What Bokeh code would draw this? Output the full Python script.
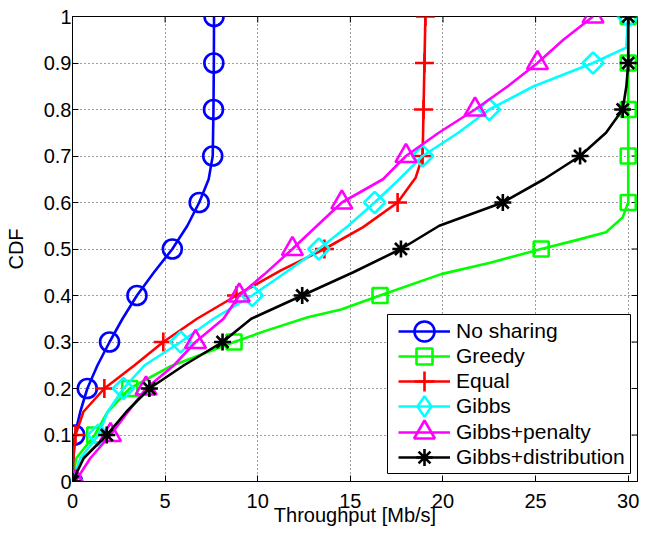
import math
from bokeh.plotting import figure
from bokeh.models import Range1d, Legend, LegendItem, FixedTicker, BoxAnnotation
from bokeh.embed import file_html
from bokeh.resources import INLINE

# ---- data ----
levels = [0.0, 0.1, 0.2, 0.3, 0.4, 0.5, 0.6, 0.7, 0.8, 0.9, 1.0]

series_names = ["No sharing", "Greedy", "Equal", "Gibbs", "Gibbs+penalty", "Gibbs+distribution"]

# throughput at each CDF decile (marker positions)
q_no_sharing = [0.0, 0.12, 0.8, 2.0, 3.48, 5.39, 6.84, 7.57, 7.61, 7.63, 7.64]
q_greedy = [0.0, 1.2, 3.09, 8.72, 16.6, 25.3, 30.0, 30.0, 30.0, 30.0, 30.0]
q_equal = [0.0, 0.16, 1.72, 4.9, 8.85, 13.6, 17.55, 18.9, 18.95, 19.0, 19.05]
q_gibbs = [0.0, 1.4, 2.75, 5.84, 9.7, 13.3, 16.31, 18.9, 22.5, 28.1, 30.0]
q_penalty = [0.15, 2.05, 3.97, 6.64, 9.0, 11.87, 14.54, 18.0, 21.73, 25.1, 28.1]
q_distribution = [0.0, 1.85, 4.15, 8.1, 12.4, 17.73, 23.23, 27.4, 29.7, 30.0, 30.0]

# empirical CDF curves (throughput, CDF)
x_no_sharing = [0, 0.05, 0.12, 0.42, 0.8, 1.35, 2.0, 2.7, 3.48, 4.4, 5.39, 6.2, 6.84, 7.35, 7.57, 7.61, 7.63, 7.64]
y_no_sharing = [0, 0.05, 0.1, 0.15, 0.2, 0.25, 0.3, 0.35, 0.4, 0.45, 0.5, 0.55, 0.6, 0.65, 0.7, 0.8, 0.9, 1.0]

x_greedy = [0, 0.2, 1.2, 1.9, 3.09, 5.3, 8.72, 10.5, 12.7, 14.5, 16.6, 19.9, 22.6, 25.3, 27.1, 28.8, 29.7, 30, 30]
y_greedy = [0, 0.05, 0.1, 0.15, 0.2, 0.248, 0.3, 0.325, 0.353, 0.37, 0.4, 0.446, 0.471, 0.5, 0.518, 0.536, 0.568, 0.6, 1.0]

x_equal = [0, 0.05, 0.16, 0.59, 1.72, 3.35, 4.9, 6.72, 8.85, 11.25, 13.6, 15.69, 17.55, 18.53, 18.9, 18.95, 19.0, 19.05]
y_equal = [0, 0.05, 0.1, 0.15, 0.2, 0.25, 0.3, 0.35, 0.4, 0.454, 0.5, 0.547, 0.6, 0.654, 0.7, 0.8, 0.9, 1.0]

x_gibbs = [0, 0.43, 1.4, 1.9, 2.75, 3.89, 5.84, 7.61, 9.7, 11.52, 13.3, 14.89, 16.31, 17.64, 18.9, 20.83, 22.5, 24.9, 28.1, 29.89, 30]
y_gibbs = [0, 0.05, 0.1, 0.15, 0.2, 0.25, 0.3, 0.35, 0.4, 0.45, 0.5, 0.55, 0.6, 0.65, 0.7, 0.75, 0.8, 0.85, 0.9, 0.933, 1.0]

x_penalty = [0.15, 0.96, 2.05, 3.0, 3.97, 5.48, 6.64, 8.15, 9.0, 10.37, 11.87, 13.2, 14.54, 16.76, 18.0, 19.77, 21.73, 23.5, 25.1, 26.5, 28.1]
y_penalty = [0, 0.05, 0.1, 0.15, 0.2, 0.25, 0.3, 0.35, 0.4, 0.446, 0.5, 0.55, 0.6, 0.65, 0.7, 0.75, 0.8, 0.85, 0.9, 0.95, 1.0]

x_distribution = [0, 0.6, 1.85, 2.91, 4.15, 6.02, 8.1, 9.65, 12.4, 15.16, 17.73, 19.8, 23.23, 25.45, 27.4, 28.8, 29.7, 29.9, 30, 30]
y_distribution = [0, 0.05, 0.1, 0.15, 0.2, 0.25, 0.3, 0.35, 0.4, 0.45, 0.5, 0.55, 0.6, 0.65, 0.7, 0.75, 0.8, 0.85, 0.9, 1.0]

x_ticks = [0, 5, 10, 15, 20, 25, 30]
y_ticks = levels
y_tick_labels = ["0", "0.1", "0.2", "0.3", "0.4", "0.5", "0.6", "0.7", "0.8", "0.9", "1"]

# ---- styles / layout ----
colors = ["#0000FF", "#00FF00", "#FF0000", "#00FFFF", "#FF00FF", "#000000"]
plot_markers = ["circle", "square", "cross", "square", "triangle", "asterisk"]
plot_angles = [0, 0, 0, math.pi / 4, 0, 0]
plot_sizes = [19, 15, 19, 15, 21, 17]
legend_markers = ["circle", "square", "cross", "diamond", "triangle", "asterisk"]
legend_glyph_h = [50, 40, 50, 56, 52, 42]   # legend marker size = 0.4 * min(glyph w, h)

FONT = "Liberation Sans"
W, H = 640, 532
BL, BR, BT, BB = 72, 3, 16, 51
X0, X1, Y0, Y1 = 0, 30.5, 0, 1
TICK = 6  # px, inward
LW = 2.6

p = figure(width=W, height=H, output_backend="svg", toolbar_location=None,
           x_range=Range1d(X0, X1), y_range=Range1d(Y0, Y1),
           min_border_left=BL, min_border_right=BR, min_border_top=BT, min_border_bottom=BB)
p.outline_line_color = "black"
p.outline_line_width = 1

# grid
for g in (p.xgrid[0], p.ygrid[0]):
    g.grid_line_color = "#3a3a3a"
    g.grid_line_dash = "1 3"
    g.grid_line_width = 1
p.xgrid[0].ticker = FixedTicker(ticks=x_ticks)
p.ygrid[0].ticker = FixedTicker(ticks=y_ticks)

# inward ticks on the top and right frame edges
fw, fh = W - BL - BR, H - BT - BB
dy = TICK * (Y1 - Y0) / fh
dx = TICK * (X1 - X0) / fw
p.segment(x0=x_ticks, x1=x_ticks, y0=[Y1] * len(x_ticks), y1=[Y1 - dy] * len(x_ticks),
          line_color="black", line_width=1)
p.segment(x0=[X1] * len(y_ticks), x1=[X1 - dx] * len(y_ticks), y0=y_ticks, y1=y_ticks,
          line_color="black", line_width=1)

lines_x = [x_no_sharing, x_greedy, x_equal, x_gibbs, x_penalty, x_distribution]
lines_y = [y_no_sharing, y_greedy, y_equal, y_gibbs, y_penalty, y_distribution]
quants = [q_no_sharing, q_greedy, q_equal, q_gibbs, q_penalty, q_distribution]

legend_renderers = []
for xs, ys, qs, c, m, a, s, lm in zip(lines_x, lines_y, quants, colors, plot_markers,
                                      plot_angles, plot_sizes, legend_markers):
    r1 = p.line(xs, ys, line_color=c, line_width=LW)
    r2 = p.scatter(qs, levels, marker=m, angle=a, size=s, line_color=c, line_width=LW,
                   fill_color=None)
    if lm != m:
        # hidden twin with the legend's marker shape (only used to draw the legend glyph)
        r2 = p.scatter(qs, levels, marker=lm, size=s, line_color=c, line_width=LW,
                       fill_color=None, visible=False)
    legend_renderers.append([r1, r2])

# axes
for ax in (p.xaxis[0], p.yaxis[0]):
    ax.major_tick_in = TICK
    ax.major_tick_out = 0
    ax.minor_tick_line_color = None
    ax.major_label_text_font = FONT
    ax.major_label_text_font_size = "20px"
    ax.major_label_text_color = "black"
    ax.axis_label_text_font = FONT
    ax.axis_label_text_font_size = "20px"
    ax.axis_label_text_font_style = "normal"
    ax.axis_label_text_color = "black"
    ax.axis_line_color = "black"

p.xaxis[0].ticker = FixedTicker(ticks=x_ticks)
p.yaxis[0].ticker = FixedTicker(ticks=y_ticks)
p.yaxis[0].major_label_overrides = {v: t for v, t in zip(y_ticks, y_tick_labels)}
p.xaxis[0].axis_label = "Throughput [Mb/s]"
p.yaxis[0].axis_label = "CDF"
p.xaxis[0].major_label_standoff = 12
p.yaxis[0].major_label_standoff = 1
p.xaxis[0].axis_label_standoff = -7
p.yaxis[0].axis_label_standoff = 14

# legend frame (white box with black border), drawn under the legend entries
box = BoxAnnotation(left=387, right=630, top=314, bottom=473,
                    left_units="canvas", right_units="canvas",
                    top_units="canvas", bottom_units="canvas",
                    fill_color="white", fill_alpha=1, line_color="black", line_width=1,
                    line_alpha=1)
p.add_layout(box)

# one legend per entry so that each entry can hold a full-size marker
first_center = 150.3   # px above the frame bottom
pitch = 25.2
for i, (name, rs, gh) in enumerate(zip(series_names, legend_renderers, legend_glyph_h)):
    lg = Legend(items=[LegendItem(label=name, renderers=rs)],
                location=(326, first_center - i * pitch - gh / 2))
    lg.label_text_font = FONT
    lg.label_text_font_size = "21px"
    lg.label_text_color = "black"
    lg.glyph_width = 52
    lg.glyph_height = gh
    lg.label_height = 22
    lg.spacing = 0
    lg.padding = 0
    lg.margin = 0
    lg.label_standoff = 6
    lg.border_line_color = None
    lg.background_fill_alpha = 0
    lg.inactive_fill_alpha = 0
    p.add_layout(lg, "center")

open("out.html", "w").write(file_html(p, INLINE))
